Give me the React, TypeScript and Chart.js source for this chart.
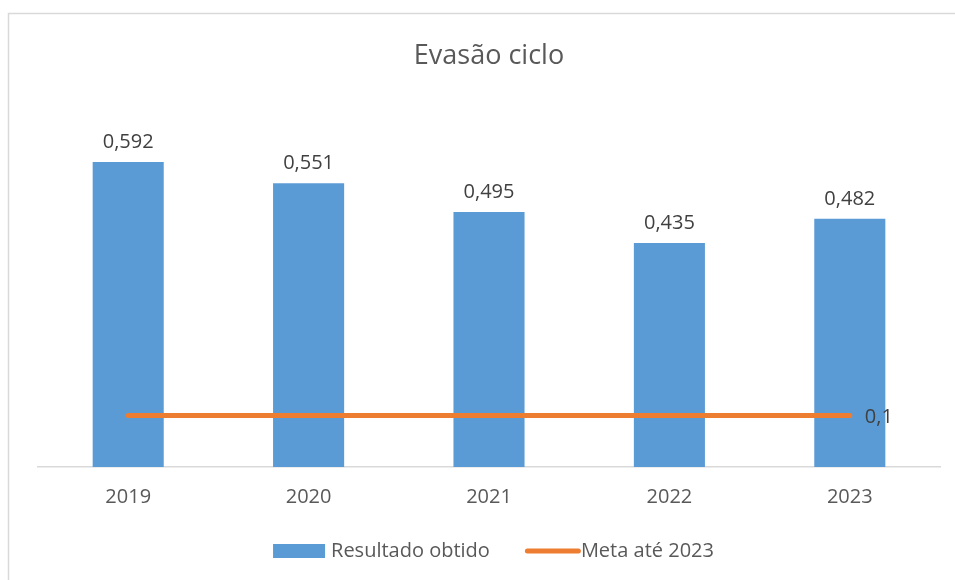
import React, { useEffect, useRef } from "react";
import { Chart, registerables } from "chart.js";

Chart.register(...registerables);

const categories = ["2019", "2020", "2021", "2022", "2023"];
const resultadoObtido = [0.592, 0.551, 0.495, 0.435, 0.482];
const metaAte2023 = [0.1, 0.1, 0.1, 0.1, 0.1];
const chartTitle = "Evasão ciclo";
const seriesNames = ["Resultado obtido", "Meta até 2023"];

const BAR_COLOR = "#5B9BD5";
const LINE_COLOR = "#ED7D31";
const TEXT_COLOR = "#595959";
const LABEL_COLOR = "#404040";
const FONT = "'Open Sans', sans-serif";

const fmt = (v: number) => String(v).replace(".", ",");

const framePlugin = {
  id: "frame",
  beforeDraw(chart: any) {
    const ctx = chart.ctx;
    ctx.save();
    ctx.fillStyle = "#FFFFFF";
    ctx.fillRect(0, 0, chart.width, chart.height);
    ctx.strokeStyle = "#D9D9D9";
    ctx.lineWidth = 1.5;
    ctx.beginPath();
    ctx.moveTo(8.5, chart.height + 5);
    ctx.lineTo(8.5, 13.5);
    ctx.lineTo(chart.width + 5, 13.5);
    ctx.stroke();
    ctx.restore();
  },
};

const labelsPlugin = {
  id: "valueLabels",
  afterDatasetsDraw(chart: any) {
    const ctx = chart.ctx;
    ctx.save();
    ctx.font = `20px ${FONT}`;
    ctx.fillStyle = LABEL_COLOR;
    ctx.textBaseline = "alphabetic";
    chart.data.datasets.forEach((ds: any, i: number) => {
      const meta = chart.getDatasetMeta(i);
      if (ds.type === "bar") {
        ctx.textAlign = "center";
        meta.data.forEach((el: any, j: number) => {
          ctx.fillText(fmt(ds.data[j]), el.x, el.y - 14);
        });
      } else {
        const j = ds.data.length - 1;
        const el = meta.data[j];
        ctx.textAlign = "left";
        ctx.fillText(fmt(ds.data[j]), el.x + 15, el.y + 8);
      }
    });
    ctx.restore();
  },
};

const legendPlugin = {
  id: "customLegend",
  afterDraw(chart: any) {
    const ctx = chart.ctx;
    ctx.save();
    ctx.font = `20px ${FONT}`;
    ctx.fillStyle = TEXT_COLOR;
    ctx.textBaseline = "alphabetic";
    ctx.textAlign = "left";
    const barDs = chart.data.datasets.find((d: any) => d.type === "bar");
    const lineDs = chart.data.datasets.find((d: any) => d.type === "line");
    const w1 = ctx.measureText(barDs.label).width;
    const w2 = ctx.measureText(lineDs.label).width;
    const total = 52 + 6 + w1 + 35 + 56 + w2;
    const cx = 493.5;
    let x = cx - total / 2;
    const baseY = 557;
    ctx.fillStyle = barDs.backgroundColor;
    ctx.fillRect(x, 544, 52, 14);
    x += 58;
    ctx.fillStyle = TEXT_COLOR;
    ctx.fillText(barDs.label, x, baseY);
    x += w1 + 35;
    ctx.strokeStyle = lineDs.borderColor;
    ctx.lineWidth = 5;
    ctx.lineCap = "round";
    ctx.beginPath();
    ctx.moveTo(x + 2.5, 551);
    ctx.lineTo(x + 53.5, 551);
    ctx.stroke();
    x += 56;
    ctx.fillText(lineDs.label, x, baseY);
    ctx.restore();
  },
};

export default function App() {
  const ref = useRef<HTMLCanvasElement | null>(null);
  useEffect(() => {
    if (!ref.current) return;
    const chart = new Chart(ref.current, {
      type: "bar",
      data: {
        labels: categories,
        datasets: [
          {
            type: "line",
            label: seriesNames[1],
            data: metaAte2023,
            borderColor: LINE_COLOR,
            backgroundColor: LINE_COLOR,
            borderWidth: 5,
            borderCapStyle: "round",
            pointRadius: 0,
            pointHoverRadius: 0,
            tension: 0,
            order: 0,
          } as any,
          {
            type: "bar",
            label: seriesNames[0],
            data: resultadoObtido,
            backgroundColor: BAR_COLOR,
            borderWidth: 0,
            barPercentage: 0.394,
            categoryPercentage: 1,
            order: 1,
          } as any,
        ],
      },
      options: {
        animation: false,
        responsive: false,
        layout: { padding: { left: 38, right: 15, top: 0, bottom: 53 } },
        plugins: {
          legend: { display: false },
          tooltip: { enabled: false },
          title: {
            display: true,
            text: chartTitle,
            color: TEXT_COLOR,
            font: { family: FONT, size: 27, weight: "normal" as any, lineHeight: 1.2 },
            padding: { top: 40, bottom: 34 },
          },
        },
        scales: {
          x: {
            grid: { display: false, drawTicks: false },
            border: { display: true, color: "#D9D9D9", width: 1.5 },
            ticks: { color: TEXT_COLOR, font: { family: FONT, size: 20, lineHeight: 1.2 }, padding: 18 },
          },
          y: {
            display: false,
            min: 0,
            max: 0.7,
          },
        },
      },
      plugins: [framePlugin, labelsPlugin, legendPlugin],
    });
    return () => chart.destroy();
  }, []);
  return (
    <div style={{ position: "absolute", left: 0, top: 0, width: 955, height: 580 }}>
      <canvas ref={ref} width={955} height={580} style={{ display: "block" }} />
    </div>
  );
}
